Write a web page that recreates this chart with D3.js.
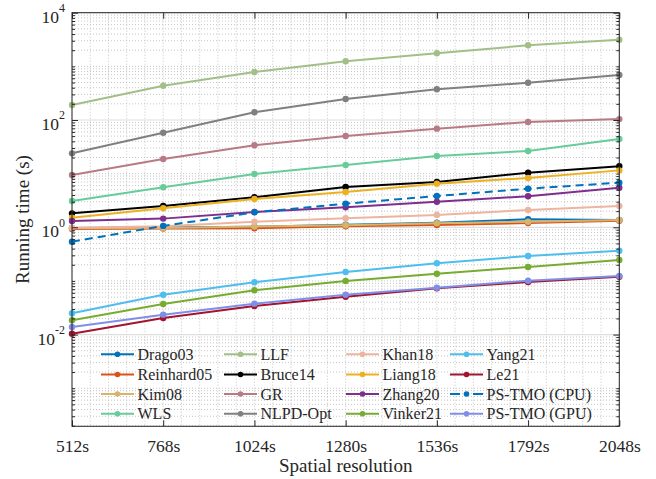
<!DOCTYPE html>
<html>
<head>
<meta charset="utf-8">
<script src="https://cdn.jsdelivr.net/npm/d3@7"></script>
<style>
  body { margin: 0; background: #fff; }
</style>
</head>
<body>
<div id="chart"></div>
<script>
// x categories
const resolutions = [512, 768, 1024, 1280, 1536, 1792, 2048];
const xTickLabels = ["512s", "768s", "1024s", "1280s", "1536s", "1792s", "2048s"];
const yTickExponents = [-2, 0, 2, 4];

// running times (s)
const drago03 = [0.97, 0.99, 1.02, 1.12, 1.22, 1.41, 1.37];
const reinhard05 = [0.93, 0.95, 0.96, 1.04, 1.10, 1.20, 1.33];
const kim08 = [0.96, 0.97, 1.03, 1.09, 1.19, 1.27, 1.37];
const wls = [3.09, 5.57, 9.85, 14.5, 21.3, 26.4, 44.2];
const llf = [190, 436, 785, 1242, 1750, 2467, 3140];
const bruce14 = [1.82, 2.49, 3.62, 5.64, 6.98, 10.4, 13.7];
const gr = [9.44, 18.7, 33.8, 50.3, 68.9, 91.8, 104];
const nlpdOpt = [23.9, 58, 139, 246, 373, 496, 690];
const khan18 = [0.98, 1.05, 1.27, 1.47, 1.69, 2.10, 2.49];
const liang18 = [1.51, 2.26, 3.37, 4.55, 6.50, 8.30, 11.5];
const zhang20 = [1.31, 1.45, 1.93, 2.36, 3.00, 3.78, 5.47];
const vinker21 = [0.0185, 0.0372, 0.0670, 0.0998, 0.136, 0.182, 0.246];
const yang21 = [0.0249, 0.0554, 0.0944, 0.147, 0.213, 0.292, 0.366];
const le21 = [0.0104, 0.0204, 0.0341, 0.0508, 0.0730, 0.0955, 0.120];
const psTmoCpu = [0.539, 1.06, 1.90, 2.75, 3.83, 5.24, 6.78];
const psTmoGpu = [0.0139, 0.0235, 0.0377, 0.0554, 0.0748, 0.101, 0.124];

const series = [
  { name: "Drago03", values: drago03, color: "#0072BD" },
  { name: "Reinhard05", values: reinhard05, color: "#D95319" },
  { name: "Kim08", values: kim08, color: "#D8B46A" },
  { name: "WLS", values: wls, color: "#66CC99" },
  { name: "LLF", values: llf, color: "#A3BF88" },
  { name: "Bruce14", values: bruce14, color: "#000000" },
  { name: "GR", values: gr, color: "#B87A84" },
  { name: "NLPD-Opt", values: nlpdOpt, color: "#808080" },
  { name: "Khan18", values: khan18, color: "#EDB5A0" },
  { name: "Liang18", values: liang18, color: "#EDB120" },
  { name: "Zhang20", values: zhang20, color: "#7E2F8E" },
  { name: "Vinker21", values: vinker21, color: "#77AC30" },
  { name: "Yang21", values: yang21, color: "#4DBEEE" },
  { name: "Le21", values: le21, color: "#A2142F" },
  { name: "PS-TMO (CPU)", values: psTmoCpu, color: "#0072BD", dashed: true },
  { name: "PS-TMO (GPU)", values: psTmoGpu, color: "#7F8FE8" }
];

const width = 656;
const height = 479;
const plotLeft = 72, plotRight = 619.3, plotTop = 12.7, plotBottom = 426.3;
const serif = "'Liberation Serif', 'Times New Roman', Times, serif";
const axisColor = "#262626";

const svg = d3.select("#chart")
  .append("svg")
  .attr("width", width)
  .attr("height", height)
  .style("font-family", serif);

const x = d3.scaleLinear().domain([512, 2048]).range([plotLeft, plotRight]);
const y = d3.scaleLog().domain([1.95e-4, 1e4]).range([plotBottom, plotTop]);

// tick values for the log axis
const majorY = yTickExponents.map((e) => Math.pow(10, e));
const minorY = [];
for (let e = -4; e < 4; e++) {
  for (let k = 1; k <= 9; k++) {
    const v = k * Math.pow(10, e);
    if (v >= 1.95e-4 && v <= 1e4 && !majorY.some((m) => Math.abs(m - v) / m < 1e-9)) minorY.push(v);
  }
}
const minorX = d3.range(512, 2048.1, 51.2);

// grid
const grid = svg.append("g");
grid.selectAll(".vgrid")
  .data(minorX)
  .enter()
  .append("line")
  .attr("x1", (d) => x(d)).attr("x2", (d) => x(d))
  .attr("y1", plotTop).attr("y2", plotBottom)
  .attr("stroke", "#b8b8b8")
  .attr("stroke-width", 0.8)
  .attr("stroke-dasharray", "1,2");
grid.selectAll(".hminor")
  .data(minorY)
  .enter()
  .append("line")
  .attr("x1", plotLeft).attr("x2", plotRight)
  .attr("y1", (d) => y(d)).attr("y2", (d) => y(d))
  .attr("stroke", "#b8b8b8")
  .attr("stroke-width", 0.8)
  .attr("stroke-dasharray", "1,2");
grid.selectAll(".hmajor")
  .data(majorY)
  .enter()
  .append("line")
  .attr("x1", plotLeft).attr("x2", plotRight)
  .attr("y1", (d) => y(d)).attr("y2", (d) => y(d))
  .attr("stroke", "#dedede")
  .attr("stroke-width", 1.2);

// lines + markers
const line = d3.line()
  .x((d, i) => x(resolutions[i]))
  .y((d) => y(d));

series.forEach((s) => {
  const g = svg.append("g");
  g.append("path")
    .datum(s.values)
    .attr("d", line)
    .attr("fill", "none")
    .attr("stroke", s.color)
    .attr("stroke-width", 2)
    .attr("stroke-dasharray", s.dashed ? "8,5" : null);
  g.selectAll("circle")
    .data(s.values)
    .enter()
    .append("circle")
    .attr("cx", (d, i) => x(resolutions[i]))
    .attr("cy", (d) => y(d))
    .attr("r", 3.2)
    .attr("fill", s.color);
});

// legend, 4 columns filled column by column
const legendCols = [101, 224, 346, 450];
const legendRows = [354.3, 374.5, 394, 413.8];
const legend = svg.append("g");
series.forEach((s, i) => {
  const cx = legendCols[Math.floor(i / 4)];
  const cy = legendRows[i % 4];
  legend.append("line")
    .attr("x1", cx).attr("x2", cx + 33)
    .attr("y1", cy).attr("y2", cy)
    .attr("stroke", s.color)
    .attr("stroke-width", 2)
    .attr("stroke-dasharray", s.dashed ? "10,13,10" : null);
  legend.append("circle")
    .attr("cx", cx + 16.5).attr("cy", cy)
    .attr("r", 2.8)
    .attr("fill", s.color);
  legend.append("text")
    .attr("x", cx + 36.5).attr("y", cy)
    .attr("dy", "0.35em")
    .attr("fill", axisColor)
    .style("font-family", serif)
    .style("font-size", "16px")
    .text(s.name);
});

// axes
const xAxis = d3.axisBottom(x)
  .tickValues(resolutions)
  .tickFormat((d, i) => xTickLabels[i])
  .tickSize(-6)
  .tickPadding(13);
svg.append("g")
  .attr("transform", `translate(0, ${plotBottom})`)
  .call(xAxis)
  .call((g) => g.attr("font-family", null).attr("font-size", null))
  .call((g) => g.select(".domain").remove())
  .call((g) => g.selectAll("text")
    .style("font-family", serif)
    .style("font-size", "17.5px")
    .attr("fill", axisColor))
  .call((g) => g.selectAll("line").attr("stroke", axisColor));

svg.append("g")
  .attr("transform", `translate(0, ${plotTop})`)
  .call(d3.axisTop(x).tickValues(resolutions).tickFormat("").tickSize(-6))
  .call((g) => g.select(".domain").remove())
  .call((g) => g.selectAll("line").attr("stroke", axisColor));

[[d3.axisLeft, plotLeft], [d3.axisRight, plotRight]].forEach(([axisFn, pos]) => {
  svg.append("g")
    .attr("transform", `translate(${pos}, 0)`)
    .call(axisFn(y).tickValues(majorY).tickFormat("").tickSize(-6))
    .call((g) => g.select(".domain").remove())
    .call((g) => g.selectAll("line").attr("stroke", axisColor));
  svg.append("g")
    .attr("transform", `translate(${pos}, 0)`)
    .call(axisFn(y).tickValues(minorY).tickFormat("").tickSize(-3))
    .call((g) => g.select(".domain").remove())
    .call((g) => g.selectAll("line").attr("stroke", axisColor));
});

// y tick labels with superscripts
const yLabels = svg.append("g");
yTickExponents.forEach((e) => {
  const t = yLabels.append("text")
    .attr("x", 65)
    .attr("y", y(Math.pow(10, e)) + 10)
    .attr("text-anchor", "end")
    .attr("fill", axisColor)
    .style("font-family", serif)
    .style("font-size", "17.5px");
  t.append("tspan").text("10");
  t.append("tspan")
    .attr("dy", -10.5)
    .style("font-size", "12px")
    .text(e);
});

// axis box
svg.append("rect")
  .attr("x", plotLeft).attr("y", plotTop)
  .attr("width", plotRight - plotLeft).attr("height", plotBottom - plotTop)
  .attr("fill", "none")
  .attr("stroke", axisColor)
  .attr("stroke-width", 1);

// axis titles
svg.append("text")
  .attr("x", (plotLeft + plotRight) / 2)
  .attr("y", 472)
  .attr("text-anchor", "middle")
  .attr("fill", axisColor)
  .style("font-family", serif)
  .style("font-size", "19px")
  .text("Spatial resolution");

svg.append("text")
  .attr("transform", `translate(22, ${(plotTop + plotBottom) / 2}) rotate(-90)`)
  .attr("dy", "0.35em")
  .attr("text-anchor", "middle")
  .attr("fill", axisColor)
  .style("font-family", serif)
  .style("font-size", "19px")
  .text("Running time (s)");
</script>
</body>
</html>
